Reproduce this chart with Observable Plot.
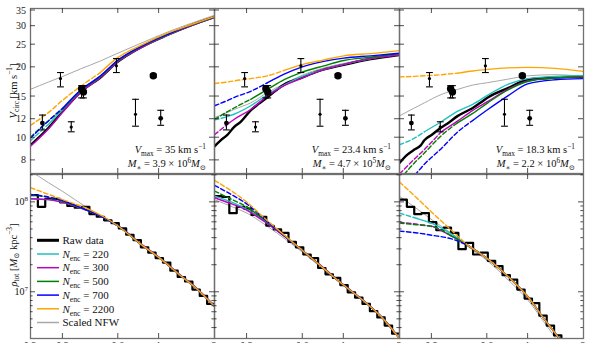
<!DOCTYPE html>
<html><head><meta charset="utf-8">
<script src="https://cdn.jsdelivr.net/npm/d3@7"></script>
<script src="https://cdn.jsdelivr.net/npm/@observablehq/plot@0.6"></script>
<style>
body{margin:0;background:#fff}
#chart{position:relative;width:598px;height:343px;overflow:hidden;background:#fff}
#chart svg{position:absolute;left:0;top:0}
#chart text{font-family:"Liberation Serif","DejaVu Serif","Times New Roman",serif}
</style></head><body><div id="chart"></div>
<script>
// ---------------- DATA ----------------
const xTicks = [0.3, 0.6, 1];
const xTickLabels = [["0.2",0.2],["0.3",0.3],["0.6",0.6],["1",1],["2",2]];
const vTicks = [8, 10, 12, 15, 20, 25, 30, 35];
const rhoMajor = [1e7, 1e8];
const rhoMinor = [4e6,5e6,6e6,7e6,8e6,9e6,2e7,3e7,4e7,5e7,6e7,7e7,8e7,9e7,2e8];
const legendLabels = ["Raw data","220","300","500","700","2200","Scaled NFW"];
const vmaxText = ["35", "23.4", "18.3"];
const mstarMant = ["3.9", "4.7", "2.2"];
const mstarExp = ["6", "5", "6"];

// observed points (same in all three top panels)
const obsR  = [0.232, 0.291, 0.333, 0.379, 0.388, 0.586, 0.744, 0.93, 1.02];
const obsV  = [11.55, 17.9, 11.1, 16.2, 15.7, 20.3, 12.6, 18.4, 12.1];
const obsLo = [10.8, 16.5, 10.6, 14.8, 14.8, 19.0, 11.2, 18.1, 11.3];
const obsHi = [12.5, 19.0, 11.7, 16.7, 16.7, 21.8, 14.6, 18.7, 13.1];
const obsKind = ["medium","small","small","large","large","small","small","large","medium"];

// top row: V_circ [km/s] vs r [kpc]
const topR = [
  [0.2, 0.25, 0.3, 0.375, 0.48, 0.59, 0.8, 1.11, 1.5, 2.0],
  [0.2, 0.234, 0.255, 0.314, 0.387, 0.476, 0.586, 0.78, 1.0, 1.4, 2.0],
  [0.2, 0.241, 0.273, 0.337, 0.415, 0.5, 0.604, 0.776, 0.995, 1.4, 2.0]];
const topNFW = [
  [16.1, 17.3, 18.3, 19.7, 21.3, 22.9, 25.4, 28.3, 30.9, 33.4],
  [12.2, 12.8, 13.2, 14.1, 15.6, 17.0, 18.4, 19.9, 20.8, 21.9, 22.8],
  [12.4, 13.4, 14.1, 15.3, 16.1, 16.8, 17.2, 17.8, 18.4, 18.6, 18.3]];
const top2200 = [
  [11.3, 12.8, 14.5, 16.6, 19.0, 21.9, 24.9, 28.0, 30.5, 33.0],
  [17.06, 17.3, 17.5, 17.9, 18.4, 19.4, 20.5, 21.5, 22.4, 22.9, 23.6],
  [18.2, 18.3, 18.4, 18.6, 18.9, 19.3, 19.6, 19.9, 20.0, 19.8, 19.2]];
const top700 = [
  [9.95, 11.8, 13.4, 16.0, 18.4, 21.3, 24.6, 27.7, 30.4, 32.9],
  [13.7, 14.4, 14.85, 15.8, 17.2, 18.7, 20.0, 21.2, 21.9, 22.4, 23.0],
  [6.0, 6.9, 7.7, 8.98, 10.6, 11.85, 13.2, 15.1, 17.0, 17.7, 17.9]];
const top500 = [
  [10.05, 11.8, 13.3, 15.9, 18.3, 21.2, 24.5, 27.6, 30.3, 32.8],
  [11.97, 12.9, 13.4, 14.6, 16.1, 17.7, 19.0, 20.3, 21.4, 22.1, 22.9],
  [6.6, 7.8, 8.6, 10.2, 11.6, 12.7, 14.1, 16.0, 17.4, 18.0, 18.2]];
const top300 = [
  [9.2, 10.9, 12.9, 15.6, 18.1, 21.0, 24.3, 27.5, 30.2, 32.7],
  [10.3, 11.4, 11.97, 13.2, 15.1, 16.7, 17.9, 19.6, 20.6, 21.8, 22.6],
  [7.0, 8.1, 8.9, 10.6, 11.8, 13.1, 14.3, 16.1, 17.5, 18.0, 18.2]];
const top220 = [
  [9.7, 11.4, 13.2, 15.8, 18.2, 21.1, 24.4, 27.5, 30.3, 32.8],
  [11.9, 12.3, 12.6, 13.7, 15.3, 16.8, 18.2, 19.6, 20.6, 21.8, 22.8],
  [9.33, 9.95, 10.6, 11.7, 13.0, 13.9, 15.2, 16.9, 17.9, 18.3, 18.4]];
const topRawR = [
  [0.2, 0.25, 0.3, 0.375, 0.48, 0.59, 0.8, 1.11, 1.5, 2.0],
  [0.2, 0.216, 0.234, 0.255, 0.277, 0.314, 0.348, 0.387, 0.429, 0.476, 0.586, 0.722, 1.0, 1.4, 2.0],
  [0.2, 0.22, 0.241, 0.26, 0.273, 0.3, 0.337, 0.37, 0.415, 0.46, 0.5, 0.55, 0.604, 0.776, 0.995, 1.4, 2.0]];
const topRaw = [
  [9.3, 11.0, 13.0, 15.7, 18.1, 21.0, 24.4, 27.5, 30.3, 32.8],
  [9.19, 9.75, 10.25, 11.1, 11.7, 13.1, 14.0, 14.9, 15.9, 16.9, 18.0, 19.2, 20.5, 21.7, 22.6],
  [7.8, 8.45, 8.9, 9.25, 9.75, 10.3, 11.05, 11.6, 12.4, 12.95, 13.4, 14.1, 14.85, 16.3, 17.7, 18.1, 18.2]];
// radius where the dashed part ends [220, 300, 500, 700, 2200]
const topDashEnd = [
  [0.25, 0.2, 0.3, 0.3, 0.48],
  [0.234, 0.234, 0.314, 0.387, 0.476],
  [0.273, 0.337, 0.415, 0.5, 0.415]];

// bottom row: log10 rho_tot [Msun/kpc^3] vs r [kpc]
const botR = [
  [0.2, 0.25, 0.3, 0.4, 0.5, 0.6, 0.8, 1.0, 1.3, 1.6, 2.0],
  [0.2, 0.25, 0.3, 0.37, 0.438, 0.611, 0.8, 1.0, 1.3, 1.6, 2.0],
  [0.2, 0.25, 0.303, 0.38, 0.47, 0.6, 0.8, 1.0, 1.2, 1.4, 1.6]];
const botNFW = [
  [8.35, 8.22, 8.12, 7.95, 7.83, 7.735, 7.53, 7.385, 7.19, 7.04, 6.844],
  [8.03, 7.95, 7.88, 7.76, 7.655, 7.43, 7.23, 7.07, 6.885, 6.72, 6.486],
  [8.067, 7.926, 7.80, 7.66, 7.51, 7.35, 7.115, 6.91, 6.69, 6.50, 6.33]];
const bot2200 = [
  [8.163, 8.09, 8.03, 7.94, 7.84, 7.735, 7.53, 7.385, 7.19, 7.04, 6.844],
  [8.244, 8.12, 8.0, 7.83, 7.70, 7.448, 7.244, 7.078, 6.892, 6.726, 6.486],
  [8.226, 8.044, 7.88, 7.696, 7.522, 7.374, 7.152, 6.948, 6.726, 6.548, 6.39]];
const bot700 = [
  [8.089, 8.06, 8.02, 7.92, 7.83, 7.735, 7.53, 7.385, 7.19, 7.04, 6.844],
  [8.189, 8.08, 7.98, 7.82, 7.69, 7.448, 7.244, 7.078, 6.892, 6.726, 6.486],
  [7.68, 7.66, 7.633, 7.596, 7.522, 7.374, 7.152, 6.948, 6.726, 6.548, 6.39]];
const bot500 = [
  [8.085, 8.055, 8.015, 7.92, 7.83, 7.735, 7.53, 7.385, 7.19, 7.04, 6.844],
  [8.126, 8.03, 7.95, 7.81, 7.69, 7.448, 7.244, 7.078, 6.892, 6.726, 6.486],
  [7.77, 7.75, 7.73, 7.63, 7.522, 7.374, 7.152, 6.948, 6.726, 6.548, 6.39]];
const bot300 = [
  [8.04, 8.03, 8.0, 7.915, 7.83, 7.735, 7.535, 7.39, 7.195, 7.045, 6.85],
  [8.052, 7.98, 7.91, 7.79, 7.68, 7.45, 7.25, 7.082, 6.895, 6.728, 6.49],
  [7.78, 7.756, 7.733, 7.63, 7.522, 7.374, 7.152, 6.948, 6.726, 6.548, 6.39]];
const bot220 = [
  [8.04, 8.03, 8.0, 7.915, 7.83, 7.735, 7.53, 7.385, 7.19, 7.04, 6.844],
  [8.07, 8.0, 7.92, 7.80, 7.69, 7.448, 7.244, 7.078, 6.892, 6.726, 6.486],
  [7.88, 7.82, 7.763, 7.652, 7.522, 7.374, 7.152, 6.948, 6.726, 6.548, 6.39]];
const botDashEnd = [
  [0.2, 0.2, 0.3, 0.3, 0.4],
  [0.2, 0.2, 0.3, 0.37, 0.438],
  [0.25, 0.303, 0.38, 0.47, 0.47]];
// raw data histogram: bin edges and log10 density per bin
const rawEdges = [0.2, 0.2193, 0.2405, 0.2637, 0.2891, 0.3170, 0.3476, 0.3811, 0.4179, 0.4582, 0.5024, 0.5509, 0.6040, 0.6623, 0.7262, 0.7962, 0.8730, 0.9572, 1.0496, 1.1508, 1.2619, 1.3836, 1.5171, 1.6634, 1.8239, 2.0];
const rawBins = [
  [8.08, 7.95, 8.04, 8.04, 8.00, 7.96, 7.94, 7.95, 7.87, 7.84, 7.80, 7.77, 7.71, 7.64, 7.58, 7.50, 7.44, 7.38, 7.33, 7.24, 7.17, 7.12, 7.03, 6.96, 6.87],
  [8.07, 8.06, 7.88, 7.95, 7.93, 7.86, 7.84, 7.74, 7.70, 7.66, 7.56, 7.50, 7.42, 7.38, 7.27, 7.20, 7.16, 7.08, 7.00, 6.94, 6.87, 6.79, 6.72, 6.63, 6.54],
  [8.03, 7.95, 7.87, 7.88, 7.78, 7.69, 7.72, 7.66, 7.48, 7.55, 7.42, 7.44, 7.35, 7.29, 7.19, 7.14, 7.03, 6.93, 6.88, 6.74, 6.63, 6.52, 6.42, 6.32, 6.22]];

// ---------------- STYLE / LAYOUT ----------------
const W = 598, H = 343;
const colX = [[30, 214], [214, 399], [399, 583]];
const rowY = [[8, 173], [174, 338]];
const FONT = '"Liberation Serif","DejaVu Serif","Times New Roman",serif';
const C = {raw: "#000000", n220: "#22c0c0", n300: "#c000c0", n500: "#007f00", n700: "#0000ff", n2200: "#ffa500", nfw: "#a8a8a8"};
const legendColors = [C.raw, C.n220, C.n300, C.n500, C.n700, C.n2200, C.nfw];
const dotR = {small: 1.6, medium: 2.4, large: 3.7};
const DASH = "4.5,2.5";

const capSymbol = {draw(ctx, size) { const w = Math.sqrt(size / Math.PI); ctx.moveTo(-w, 0); ctx.lineTo(w, 0); }};

function seriesMarks(R, V, color, width, dashEnd, conv) {
  const pts = R.map((r, i) => ({r, v: conv(V[i])}));
  const out = [];
  const dashed = pts.filter(d => d.r <= dashEnd + 1e-9);
  const solid = pts.filter(d => d.r >= dashEnd - 1e-9);
  if (dashed.length > 1) out.push(Plot.line(dashed, {x: "r", y: "v", stroke: color, strokeWidth: width, strokeDasharray: DASH, curve: "monotone-x", clip: true}));
  if (solid.length > 1) out.push(Plot.line(solid, {x: "r", y: "v", stroke: color, strokeWidth: width, curve: "monotone-x", clip: true}));
  return out;
}

const chart = document.getElementById("chart");
const scales = {};

function makePanel(row, col, marks, yDomain, yMajor, yMinor) {
  const c = colX[col], rr = rowY[row];
  const plot = Plot.plot({
    width: W, height: H,
    marginLeft: c[0], marginRight: W - c[1], marginTop: rr[0], marginBottom: H - rr[1],
    x: {type: "log", domain: [0.2, 2], axis: null},
    y: {type: "log", domain: yDomain, axis: null},
    style: {background: "transparent"},
    marks: [...marks, Plot.frame({stroke: "#707070", strokeWidth: 1.3})]
  });
  const sx = plot.scale("x"), sy = plot.scale("y");
  const [x0, x1] = sx.range; const [yb, yt] = sy.range;
  const g = d3.select(plot).append("g").attr("stroke", "#222").attr("stroke-width", 0.8);
  const L = 5, Lm = 2.6;
  for (const t of xTicks) {
    const x = sx.apply(t);
    g.append("line").attr("x1", x).attr("x2", x).attr("y1", yb).attr("y2", yb - L);
    g.append("line").attr("x1", x).attr("x2", x).attr("y1", yt).attr("y2", yt + L);
  }
  for (const t of yMajor) {
    const y = sy.apply(t);
    g.append("line").attr("x1", x0).attr("x2", x0 + L).attr("y1", y).attr("y2", y);
    g.append("line").attr("x1", x1).attr("x2", x1 - L).attr("y1", y).attr("y2", y);
  }
  for (const t of yMinor) {
    const y = sy.apply(t);
    g.append("line").attr("x1", x0).attr("x2", x0 + Lm).attr("y1", y).attr("y2", y);
    g.append("line").attr("x1", x1).attr("x2", x1 - Lm).attr("y1", y).attr("y2", y);
  }
  chart.appendChild(plot);
  scales[row + "_" + col] = {sx, sy};
}

const obsData = obsR.map((r, i) => ({r, v: obsV[i], lo: obsLo[i], hi: obsHi[i], kind: obsKind[i]}));
const ident = v => v, pow10 = v => Math.pow(10, v);

for (let p = 0; p < 3; p++) {
  // ---- top panel ----
  const tm = [];
  tm.push(...seriesMarks(topR[p], topNFW[p], C.nfw, 1, 0, ident));
  tm.push(...seriesMarks(topRawR[p], topRaw[p], C.raw, 2.4, 0, ident));
  const topSeries = [[top220, C.n220], [top300, C.n300], [top500, C.n500], [top700, C.n700], [top2200, C.n2200]];
  topSeries.forEach(([arr, col], k) => tm.push(...seriesMarks(topR[p], arr[p], col, 1.4, topDashEnd[p][k], ident)));
  tm.push(Plot.ruleX(obsData, {x: "r", y1: "lo", y2: "hi", stroke: "#000", strokeWidth: 1.1}));
  tm.push(Plot.dot(obsData, {x: "r", y: "lo", r: 3.4, symbol: capSymbol, stroke: "#000", fill: "none", strokeWidth: 1.1}));
  tm.push(Plot.dot(obsData, {x: "r", y: "hi", r: 3.4, symbol: capSymbol, stroke: "#000", fill: "none", strokeWidth: 1.1}));
  for (const k of ["small", "medium", "large"]) {
    tm.push(Plot.dot(obsData.filter(d => d.kind === k), {x: "r", y: "v", r: dotR[k], fill: "#000", stroke: "none"}));
  }
  makePanel(0, p, tm, [7.03, 35.7], vTicks, []);

  // ---- bottom panel ----
  const bm = [];
  bm.push(...seriesMarks(botR[p], botNFW[p], C.nfw, 1, 0, pow10));
  const steps = rawEdges.map((r, i) => ({r, v: Math.pow(10, rawBins[p][Math.min(i, rawBins[p].length - 1)])}));
  bm.push(Plot.line(steps, {x: "r", y: "v", curve: "step-after", stroke: C.raw, strokeWidth: 2.2, clip: true}));
  const botSeries = [[bot220, C.n220], [bot300, C.n300], [bot500, C.n500], [bot700, C.n700], [bot2200, C.n2200]];
  botSeries.forEach(([arr, col], k) => bm.push(...seriesMarks(botR[p], arr[p], col, 1.4, botDashEnd[p][k], pow10)));
  makePanel(1, p, bm, [Math.pow(10, 6.486), Math.pow(10, 8.31)], rhoMajor, rhoMinor);
}

// ---------------- TEXT OVERLAY ----------------
const ov = d3.create("svg").attr("width", W).attr("height", H).attr("viewBox", `0 0 ${W} ${H}`)
  .style("font-family", FONT);
chart.appendChild(ov.node());

function rich(g, x, y, parts, {size = 10.5, anchor = "start", rotate = 0} = {}) {
  const t = g.append("text").attr("x", x).attr("y", y)
    .attr("text-anchor", anchor).attr("fill", "#111")
    .style("font-family", FONT).style("font-size", size + "px");
  if (rotate) t.attr("transform", `rotate(${rotate},${x},${y})`);
  let shift = 0;
  for (const p of parts) {
    const s = t.append("tspan").text(p.t);
    const target = p.sub ? size * 0.28 : p.sup ? -size * 0.42 : 0;
    if (target - shift !== 0) s.attr("dy", target - shift);
    shift = target;
    if (p.sub || p.sup) s.style("font-size", (size * 0.7) + "px");
    if (p.i) s.style("font-style", "italic");
  }
  return t;
}

// y tick labels
const sTop = scales["0_0"], sBot = scales["1_0"];
for (const v of vTicks) {
  ov.append("text").attr("x", 26).attr("y", sTop.sy.apply(v)).attr("dy", "0.35em")
    .attr("text-anchor", "end").style("font-size", "10px").style("font-family", FONT).attr("fill", "#222").text(String(v));
}
for (const v of rhoMajor) {
  rich(ov, 28, sBot.sy.apply(v) + 3.5, [{t: "10"}, {t: String(Math.round(Math.log10(v))), sup: 1}], {size: 10, anchor: "end"});
}
// x tick labels (cut by the bottom edge, as in the original figure)
for (let p = 0; p < 3; p++) {
  const sx = scales["1_" + p].sx;
  for (const [lab, v] of xTickLabels) {
    if (v === 0.2 && p > 0) continue;
    ov.append("text").attr("x", sx.apply(v)).attr("y", 348.5).attr("text-anchor", "middle")
      .style("font-size", "10px").style("font-family", FONT).attr("fill", "#222").text(lab);
  }
}
// axis titles
rich(ov, 16.5, 91, [{t: "V", i: 1}, {t: "circ", sub: 1}, {t: " [km s"}, {t: "−1", sup: 1}, {t: "]"}], {size: 10.5, anchor: "middle", rotate: -90});
rich(ov, 16.5, 255, [{t: "ρ", i: 1}, {t: "tot", sub: 1}, {t: " ["}, {t: "M", i: 1}, {t: "⊙", sub: 1}, {t: " kpc"}, {t: "−3", sup: 1}, {t: "]"}], {size: 10.5, anchor: "middle", rotate: -90});

// panel annotations
for (let p = 0; p < 3; p++) {
  const xr = colX[p][1] - 8;
  rich(ov, xr, 153, [{t: "V", i: 1}, {t: "max", sub: 1}, {t: " = " + vmaxText[p] + " km s"}, {t: "−1", sup: 1}], {size: 10.5, anchor: "end"});
  rich(ov, xr, 167, [{t: "M", i: 1}, {t: "∗", sub: 1}, {t: " = " + mstarMant[p] + " × 10"}, {t: mstarExp[p], sup: 1}, {t: "M", i: 1}, {t: "⊙", sub: 1}], {size: 10.5, anchor: "end"});
}

// legend (bottom-left panel)
legendLabels.forEach((lab, k) => {
  const y = 240.3 + k * 13.7;
  ov.append("line").attr("x1", 37).attr("x2", 59).attr("y1", y).attr("y2", y)
    .attr("stroke", legendColors[k]).attr("stroke-width", k === 0 ? 3 : 1.5);
  const parts = (k === 0 || k === 6) ? [{t: lab}] : [{t: "N", i: 1}, {t: "enc", sub: 1}, {t: " = " + lab}];
  rich(ov, 62.5, y + 3.7, parts, {size: 11});
});
</script></body></html>
